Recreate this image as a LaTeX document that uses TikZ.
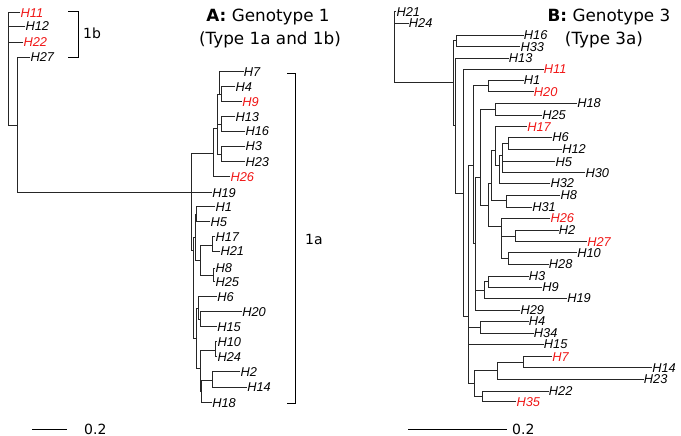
\documentclass[tikz,border=0pt]{standalone}
\usepackage{fontspec}
\newfontfamily\labfam{Liberation Sans}
\newfontfamily\ttlfam{DejaVu Sans}
\definecolor{lred}{RGB}{240,20,20}
\newcommand\leaf[5][black]{\coordinate (#2) at (#3,#4); \node[lf,text=#1] (#2t) at (#2) {#5};}
\newcommand\eds[2]{\foreach \cc in {#2} {\draw[br] (#1) |- (\cc);}}
\tikzset{
  br/.style={line width=0.8pt, black!85, line cap=rect},
  lf/.style={anchor=west, inner sep=0.4pt, text height=9pt, text depth=0pt, font=\labfam\itshape\fontsize{12.8}{14}\selectfont},
  ttl/.style={inner sep=0pt, font=\ttlfam\fontsize{16.8}{18}\selectfont},
  sm/.style={inner sep=0pt, anchor=west, font=\ttlfam\fontsize{14}{16}\selectfont},
  brk/.style={line width=0.8pt, black}
}
\begin{document}
\begin{tikzpicture}[x=1pt,y=-1pt]
\useasboundingbox (0,0) rectangle (681,436);
% ---------------- Tree A ----------------
\coordinate (a-r0) at (8,125);
\leaf[lred]{a-H11}{20}{12.7}{H11}
\leaf{a-H12}{25}{26}{H12}
\leaf[lred]{a-H22}{23}{42}{H22}
\leaf{a-H27}{30}{57}{H27}
\coordinate (a-n1) at (17,125);
\coordinate (a-n2) at (191.7,192.7);
\leaf{a-H19}{211.7}{192.7}{H19}
\coordinate (a-A) at (213.3,153.3);
\leaf[lred]{a-H26}{230}{176.7}{H26}
\coordinate (a-B) at (217.3,128.3);
\coordinate (a-C) at (219.3,94);
\leaf{a-H7}{243.3}{71.7}{H7}
\coordinate (a-F) at (221.7,94);
\leaf{a-H4}{235}{86.7}{H4}
\leaf[lred]{a-H9}{241.7}{101.7}{H9}
\coordinate (a-D) at (221.7,124);
\leaf{a-H13}{235}{116.7}{H13}
\leaf{a-H16}{245}{131}{H16}
\coordinate (a-E) at (221.7,154);
\leaf{a-H3}{245}{146}{H3}
\leaf{a-H23}{245}{161.7}{H23}
\coordinate (a-G) at (193.3,250);
\coordinate (a-N3) at (195,237);
\coordinate (a-P) at (196.7,214);
\leaf{a-H1}{215}{206.7}{H1}
\leaf{a-H5}{210}{221.7}{H5}
\coordinate (a-Q) at (200.7,260);
\coordinate (a-S1) at (212.3,245);
\leaf{a-H17}{215}{236.7}{H17}
\leaf{a-H21}{220}{251}{H21}
\coordinate (a-S2) at (213.3,275);
\leaf{a-H8}{215}{268}{H8}
\leaf{a-H25}{215}{281.7}{H25}
\coordinate (a-Z) at (196.7,338);
\coordinate (a-T) at (198.3,308);
\leaf{a-H6}{216.7}{296.7}{H6}
\coordinate (a-U) at (200,319);
\leaf{a-H20}{241.7}{311.7}{H20}
\leaf{a-H15}{216.7}{326.7}{H15}
\coordinate (a-V) at (200.7,368);
\coordinate (a-W) at (215,350);
\leaf{a-H10}{217}{341.7}{H10}
\leaf{a-H24}{217}{356.7}{H24}
\coordinate (a-X) at (201.7,391);
\coordinate (a-Y) at (212.3,380);
\leaf{a-H2}{240}{371.7}{H2}
\leaf{a-H14}{246.7}{387.3}{H14}
\leaf{a-H18}{211.7}{402.7}{H18}
\eds{a-r0}{a-H11,a-H12,a-H22,a-n1}
\eds{a-n1}{a-H27,a-n2}
\eds{a-n2}{a-A,a-H19,a-G}
\eds{a-A}{a-B,a-H26}
\eds{a-B}{a-C,a-D,a-E}
\eds{a-C}{a-H7,a-F}
\eds{a-F}{a-H4,a-H9}
\eds{a-D}{a-H13,a-H16}
\eds{a-E}{a-H3,a-H23}
\eds{a-G}{a-N3,a-Z}
\eds{a-N3}{a-P,a-Q}
\eds{a-P}{a-H1,a-H5}
\eds{a-Q}{a-S1,a-S2}
\eds{a-S1}{a-H17,a-H21}
\eds{a-S2}{a-H8,a-H25}
\eds{a-Z}{a-T,a-V}
\eds{a-T}{a-H6,a-U}
\eds{a-U}{a-H20,a-H15}
\eds{a-V}{a-W,a-X}
\eds{a-W}{a-H10,a-H24}
\eds{a-X}{a-Y,a-H18}
\eds{a-Y}{a-H2,a-H14}
% brackets
\draw[brk] (68,11) -- (78,11) -- (78,57) -- (68,57);
\node[sm] (lb1b) at (83,33) {1b};
\draw[brk] (287,73) -- (295,73) -- (295,403) -- (287,403);
\node[sm] (lb1a) at (305,239) {1a};
% titles
\node[ttl] (ta1) at (268,17) {\textbf{A:} Genotype 1};
\node[ttl] (ta2) at (270,40) {(Type 1a and 1b)};
% scale
\coordinate (sa1) at (32.3,429);
\coordinate (sa2) at (66.7,429);
\draw[brk] (sa1) -- (sa2);
\node[sm] (sal) at (84,429) {0.2};
% ---------------- Tree B ----------------
\coordinate (b-r0) at (394,82.7);
\leaf{b-H21}{396}{11.7}{H21}
\leaf{b-H24}{408.3}{23.3}{H24}
\coordinate (b-m1) at (453.3,82.7);
\coordinate (b-K1) at (456.7,40.7);
\leaf{b-H16}{523.3}{35}{H16}
\leaf{b-H33}{520}{46.7}{H33}
\coordinate (b-m2) at (455.5,125);
\leaf{b-H13}{508.3}{58.3}{H13}
\coordinate (b-m3) at (463.3,193.3);
\leaf[lred]{b-H11}{543.3}{69.3}{H11}
\coordinate (b-m4) at (468.5,316.7);
\coordinate (b-u1) at (473.3,165);
\coordinate (b-A1) at (488.3,85.8);
\leaf{b-H1}{523.3}{80}{H1}
\leaf[lred]{b-H20}{533.3}{91.7}{H20}
\coordinate (b-u2) at (475.7,243);
\coordinate (b-u3) at (480,177.3);
\coordinate (b-B1) at (495,109.3);
\leaf{b-H18}{576.7}{103.3}{H18}
\leaf{b-H25}{541.7}{115}{H25}
\coordinate (b-u4) at (488.3,205);
\coordinate (b-u6) at (491.7,183.3);
\coordinate (b-u7) at (495,150);
\leaf[lred]{b-H17}{526.7}{126.7}{H17}
\coordinate (b-u8) at (499.3,165);
\coordinate (b-u9) at (502.7,155);
\coordinate (b-E1) at (508.3,143.3);
\leaf{b-H6}{551.7}{137.3}{H6}
\leaf{b-H12}{561.7}{149.3}{H12}
\leaf{b-H5}{555}{161.7}{H5}
\leaf{b-H30}{585}{172.7}{H30}
\leaf{b-H32}{550}{183.3}{H32}
\coordinate (b-D1) at (506,200);
\leaf{b-H8}{560}{195}{H8}
\leaf{b-H31}{531.7}{207.3}{H31}
\coordinate (b-C1) at (501.7,226.7);
\leaf[lred]{b-H26}{550}{218.3}{H26}
\coordinate (b-F1) at (515,236);
\leaf{b-H2}{558.3}{230}{H2}
\leaf[lred]{b-H27}{586.7}{241.7}{H27}
\coordinate (b-G1) at (508.3,258.3);
\leaf{b-H10}{576.7}{252.7}{H10}
\leaf{b-H28}{548.3}{264}{H28}
\coordinate (b-u5) at (484.3,290);
\coordinate (b-H3H9) at (488.3,281.7);
\leaf{b-H3}{528.3}{276}{H3}
\leaf{b-H9}{541.7}{287.3}{H9}
\leaf{b-H19}{566.7}{298.3}{H19}
\leaf{b-H29}{520}{310}{H29}
\coordinate (b-HH) at (480.7,327.3);
\leaf{b-H4}{528.3}{321.3}{H4}
\leaf{b-H34}{533.3}{333}{H34}
\leaf{b-H15}{543.3}{344}{H15}
\coordinate (b-low) at (474.3,383.3);
\coordinate (b-L1) at (497.3,370.7);
\coordinate (b-L3) at (523.3,362.7);
\leaf[lred]{b-H7}{551.7}{356.7}{H7}
\leaf{b-H14}{651.7}{367.5}{H14}
\leaf{b-H23}{643.3}{379}{H23}
\coordinate (b-L2) at (482.7,396.7);
\leaf{b-H22}{548.3}{391}{H22}
\leaf[lred]{b-H35}{516}{401.7}{H35}
\eds{b-r0}{b-H21,b-H24,b-m1}
\eds{b-m1}{b-K1,b-m2}
\eds{b-K1}{b-H16,b-H33}
\eds{b-m2}{b-H13,b-m3}
\eds{b-m3}{b-H11,b-m4}
\eds{b-m4}{b-u1,b-HH,b-H15,b-low}
\eds{b-u1}{b-A1,b-u2}
\eds{b-A1}{b-H1,b-H20}
\eds{b-u2}{b-u3,b-u5,b-H29}
\eds{b-u3}{b-B1,b-u4}
\eds{b-B1}{b-H18,b-H25}
\eds{b-u4}{b-u6,b-C1}
\eds{b-u6}{b-u7,b-D1}
\eds{b-u7}{b-H17,b-u8}
\eds{b-u8}{b-u9,b-H32}
\eds{b-u9}{b-E1,b-H5,b-H30}
\eds{b-E1}{b-H6,b-H12}
\eds{b-D1}{b-H8,b-H31}
\eds{b-C1}{b-H26,b-F1,b-G1}
\eds{b-F1}{b-H2,b-H27}
\eds{b-G1}{b-H10,b-H28}
\eds{b-u5}{b-H3H9,b-H19}
\eds{b-H3H9}{b-H3,b-H9}
\eds{b-HH}{b-H4,b-H34}
\eds{b-low}{b-L1,b-L2}
\eds{b-L1}{b-L3,b-H23}
\eds{b-L3}{b-H7,b-H14}
\eds{b-L2}{b-H22,b-H35}
% titles
\node[ttl] (tb1) at (609,17) {\textbf{B:} Genotype 3};
\node[ttl] (tb2) at (604,40) {(Type 3a)};
% scale
\coordinate (sb1) at (408,429);
\coordinate (sb2) at (506.7,429);
\draw[brk] (sb1) -- (sb2);
\node[sm] (sbl) at (512,429) {0.2};
\end{tikzpicture}
\end{document}
